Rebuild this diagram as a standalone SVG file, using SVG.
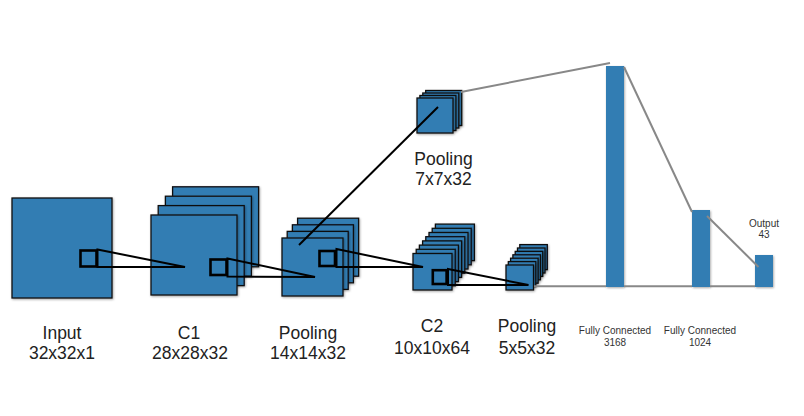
<svg xmlns="http://www.w3.org/2000/svg" width="804" height="416" viewBox="0 0 804 416">
<defs>
<filter id="sh" x="-20%" y="-20%" width="140%" height="140%">
<feDropShadow dx="0.8" dy="1" stdDeviation="0.8" flood-color="#000" flood-opacity="0.35"/>
</filter>
<style>
.layer{fill:#327db3;stroke:#111;stroke-width:1.3;filter:url(#sh)}
.bar{fill:#327db3;filter:url(#sh)}
.rf{fill:none;stroke:#000;stroke-width:2.6}
.rl{fill:none;stroke:#000;stroke-width:2;stroke-linejoin:miter}
.gl{fill:none;stroke:#888;stroke-width:2}
.lbl{font-family:"Liberation Sans",Arial,sans-serif;font-size:17.5px;fill:#222;text-anchor:middle}
.sm{font-family:"Liberation Sans",Arial,sans-serif;font-size:10px;fill:#333;text-anchor:middle}
</style>
</defs>
<rect width="804" height="416" fill="#fff"/>

<g id="input">
<rect class="layer" x="12" y="198" width="100" height="100"/>
<text class="lbl" x="62" y="339">Input</text>
<text class="lbl" x="62" y="359">32x32x1</text>
</g>

<g id="c1">
<rect class="layer" x="172.6" y="186.8" width="86" height="80"/>
<rect class="layer" x="165.4" y="196.2" width="86" height="80"/>
<rect class="layer" x="158.2" y="205.6" width="86" height="80"/>
<rect class="layer" x="151" y="215" width="86" height="80"/>
<text class="lbl" x="189" y="339">C1</text>
<text class="lbl" x="190" y="359">28x28x32</text>
</g>

<g id="pool1">
<rect class="layer" x="297.6" y="218.2" width="61" height="58"/>
<rect class="layer" x="292.4" y="224.8" width="61" height="58"/>
<rect class="layer" x="287.2" y="231.4" width="61" height="58"/>
<rect class="layer" x="282" y="238" width="61" height="58"/>
<text class="lbl" x="308" y="339">Pooling</text>
<text class="lbl" x="308" y="359">14x14x32</text>
</g>

<g id="pool7">
<rect class="layer" x="425.7" y="90.5" width="36" height="35"/>
<rect class="layer" x="422.8" y="93" width="36" height="35"/>
<rect class="layer" x="419.9" y="95.5" width="36" height="35"/>
<rect class="layer" x="417" y="98" width="36" height="35"/>
<text class="lbl" x="443.5" y="165">Pooling</text>
<text class="lbl" x="443.5" y="185">7x7x32</text>
</g>

<g id="c2">
<rect class="layer" x="435.4" y="224.1" width="39" height="36.5"/>
<rect class="layer" x="432.2" y="228.3" width="39" height="36.5"/>
<rect class="layer" x="429" y="232.5" width="39" height="36.5"/>
<rect class="layer" x="425.8" y="236.7" width="39" height="36.5"/>
<rect class="layer" x="422.6" y="240.9" width="39" height="36.5"/>
<rect class="layer" x="419.4" y="245.1" width="39" height="36.5"/>
<rect class="layer" x="416.2" y="249.3" width="39" height="36.5"/>
<rect class="layer" x="413" y="253.5" width="39" height="36.5"/>
<text class="lbl" x="432" y="332">C2</text>
<text class="lbl" x="432" y="353.5">10x10x64</text>
</g>

<g id="pool2">
<rect class="layer" x="519.8" y="244.6" width="27.5" height="25"/>
<rect class="layer" x="517.5" y="248" width="27.5" height="25"/>
<rect class="layer" x="515.2" y="251.4" width="27.5" height="25"/>
<rect class="layer" x="512.9" y="254.8" width="27.5" height="25"/>
<rect class="layer" x="510.6" y="258.2" width="27.5" height="25"/>
<rect class="layer" x="508.3" y="261.6" width="27.5" height="25"/>
<rect class="layer" x="506" y="265" width="27.5" height="25"/>
<text class="lbl" x="527" y="332">Pooling</text>
<text class="lbl" x="527" y="353.5">5x5x32</text>
</g>

<g id="fc1">
<rect class="bar" x="606" y="66" width="18" height="221"/>
<text class="sm" x="615" y="334">Fully Connected</text>
<text class="sm" x="615" y="346">3168</text>
</g>

<g id="fc2">
<rect class="bar" x="692" y="210" width="18" height="77"/>
<text class="sm" x="700" y="334">Fully Connected</text>
<text class="sm" x="700" y="346">1024</text>
</g>

<g id="output">
<rect class="bar" x="755" y="255" width="18" height="32"/>
<text class="sm" x="764" y="226.5">Output</text>
<text class="sm" x="764" y="237.5">43</text>
</g>

<g id="connectors">
<rect class="rf" x="80.5" y="250.5" width="16" height="16"/>
<polygon class="rl" points="97.5,249.5 185,267 97.5,267"/>
<rect class="rf" x="210.5" y="259.5" width="16" height="15.5"/>
<polygon class="rl" points="227.5,258.5 315,277 227.5,276.5"/>
<rect class="rf" x="319.5" y="251" width="15.5" height="15"/>
<polygon class="rl" points="336.5,249 423,267 336.5,267"/>
<line class="rl" x1="299" y1="245" x2="438" y2="107"/>
<rect class="rf" x="432.8" y="270.2" width="13.8" height="13.8"/>
<polygon class="rl" points="448,269 528.5,285 448,285"/>
<line class="gl" x1="534" y1="286.3" x2="606" y2="286.3"/>
<line class="gl" x1="624" y1="286.3" x2="692" y2="286.3"/>
<line class="gl" x1="710" y1="286.3" x2="755" y2="286.3"/>
<line class="gl" x1="461" y1="92" x2="610" y2="63"/>
<line class="gl" x1="624" y1="67" x2="692" y2="212"/>
<line class="gl" x1="707" y1="216" x2="758.5" y2="267"/>
</g>
</svg>
